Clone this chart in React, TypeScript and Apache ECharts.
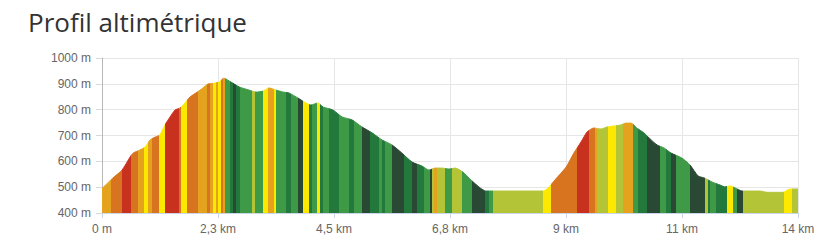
import React, { useEffect, useRef } from "react";
import * as echarts from "echarts";

const titleText = "Profil altimétrique";

// distance (km), elevation (m)
const profile: [number, number][] = [
  [0, 495], [0.21, 535], [0.39, 566], [0.55, 617], [0.61, 632], [0.74, 644], [0.84, 655],
  [0.94, 683], [1.04, 694], [1.13, 702], [1.23, 741], [1.33, 772], [1.43, 799], [1.52, 806],
  [1.62, 826], [1.72, 849], [1.86, 868], [1.97, 884], [2.07, 899], [2.21, 903], [2.29, 907],
  [2.38, 922], [2.52, 907], [2.68, 888], [2.87, 876], [3.01, 868], [3.15, 872], [3.26, 884],
  [3.40, 876], [3.54, 868], [3.65, 865], [3.83, 845], [3.95, 830], [4.08, 818], [4.22, 826],
  [4.32, 810], [4.51, 799], [4.69, 772], [4.89, 760], [5.08, 733], [5.28, 710], [5.47, 683],
  [5.67, 663], [5.86, 632], [6.06, 597], [6.25, 582], [6.39, 566], [6.51, 574], [6.64, 574],
  [6.78, 570], [6.90, 574], [7.05, 559], [7.21, 528], [7.39, 497], [7.50, 485], [8.62, 485],
  [8.72, 497], [8.85, 528], [9.07, 578], [9.22, 632], [9.36, 675], [9.48, 714], [9.61, 729],
  [9.75, 725], [9.87, 733], [10.01, 737], [10.14, 741], [10.24, 748], [10.34, 748], [10.45, 729],
  [10.59, 710], [10.73, 683], [10.85, 663], [10.98, 652], [11.12, 632], [11.33, 613], [11.49, 586],
  [11.65, 543], [11.78, 535], [11.92, 520], [12.08, 508], [12.17, 501], [12.27, 505], [12.37, 497],
  [12.51, 485], [12.86, 485], [13.00, 480], [13.31, 480], [13.44, 493], [13.60, 493],
];

// slope stripes: start km, slope class
const slopeStripes: [number, string][] = [
  [0, "A"], [0.18, "O"], [0.39, "R"], [0.57, "O"], [0.70, "A"], [0.82, "Y"], [0.90, "A"],
  [0.98, "O"], [1.11, "Y"], [1.23, "R"], [1.50, "O"], [1.54, "Y"], [1.66, "O"], [1.88, "A"],
  [2.05, "O"], [2.11, "A"], [2.17, "Y"], [2.23, "A"], [2.27, "Y"], [2.33, "O"], [2.36, "A"],
  [2.40, "LG"], [2.50, "G"], [2.56, "DG"], [2.62, "G"], [2.70, "LG"], [2.93, "YG"], [2.99, "LG"],
  [3.15, "Y"], [3.24, "A"], [3.36, "Y"], [3.40, "LG"], [3.60, "G"], [3.69, "LG"], [3.83, "DG"],
  [3.93, "Y"], [4.05, "G"], [4.10, "LG"], [4.20, "Y"], [4.26, "G"], [4.32, "LG"], [4.44, "G"],
  [4.63, "LG"], [4.83, "G"], [4.92, "LG"], [5.08, "DG"], [5.24, "G"], [5.41, "LG"], [5.47, "G"],
  [5.53, "LG"], [5.67, "DG"], [5.90, "G"], [6.06, "DG"], [6.16, "G"], [6.29, "LG"], [6.41, "DG"],
  [6.45, "YG"], [6.49, "A"], [6.55, "YG"], [6.70, "LG"], [6.84, "YG"], [7.03, "LG"], [7.23, "DG"],
  [7.48, "G"], [7.56, "LG"], [7.64, "YG"], [8.62, "Y"], [8.77, "O"], [9.28, "R"], [9.52, "O"],
  [9.63, "A"], [9.67, "YG"], [9.89, "Y"], [10.04, "YG"], [10.18, "A"], [10.38, "LG"], [10.47, "G"],
  [10.65, "DG"], [10.90, "LG"], [11.02, "G"], [11.12, "DG"], [11.22, "LG"], [11.49, "DG"],
  [11.78, "YG"], [11.84, "G"], [11.88, "LG"], [12.00, "G"], [12.21, "Y"], [12.33, "LG"],
  [12.41, "DG"], [12.53, "YG"], [13.33, "Y"], [13.48, "YG"],
];

const slopeColors: Record<string, string> = {
  R: "#c9311f",
  O: "#d8731f",
  A: "#e4a21f",
  Y: "#fde800",
  YG: "#b3c436",
  LG: "#3e9a47",
  G: "#22793b",
  DG: "#2a4934",
};

const totalKm = 13.6;
const xTickLabels = ["0 m", "2,3 km", "4,5 km", "6,8 km", "9 km", "11 km", "14 km"];
const yMin = 400;
const yMax = 1000;
const yStep = 100;

export default function App() {
  const ref = useRef<HTMLDivElement>(null);
  useEffect(() => {
    if (!ref.current) return;
    const chart = echarts.init(ref.current, null, { renderer: "svg" });
    const xStep = totalKm / (xTickLabels.length - 1);
    const pieces = slopeStripes.map((s, i) => {
      const next = i + 1 < slopeStripes.length ? slopeStripes[i + 1][0] : totalKm + 1;
      return { gte: s[0], lt: next, color: slopeColors[s[1]] };
    });
    chart.setOption({
      animation: false,
      title: {
        text: titleText,
        left: 23,
        top: 4,
        textStyle: {
          fontFamily: "'Open Sans', sans-serif",
          fontSize: 26,
          fontWeight: "normal",
          color: "#333333",
        },
      },
      grid: { left: 102, right: 32, top: 58, bottom: 33, containLabel: false },
      visualMap: {
        type: "piecewise",
        show: false,
        dimension: 0,
        seriesIndex: 0,
        pieces,
      },
      xAxis: {
        type: "value",
        min: 0,
        max: totalKm,
        interval: xStep,
        axisLine: { show: true, lineStyle: { color: "#ccd6eb" } },
        axisTick: { show: true, length: 5, lineStyle: { color: "#ccd6eb" } },
        splitLine: { show: true, lineStyle: { color: "#e6e6e6" } },
        axisLabel: {
          margin: 10,
          fontFamily: "'Liberation Sans', Arial, sans-serif",
          fontSize: 12,
          color: "#666666",
          formatter: (v: number) => xTickLabels[Math.round(v / xStep)] ?? "",
        },
      },
      yAxis: {
        type: "value",
        min: yMin,
        max: yMax,
        interval: yStep,
        axisLine: { show: true, lineStyle: { color: "#b8b8b8" } },
        axisTick: { show: true, length: 6, lineStyle: { color: "#d8d8d8" } },
        splitLine: { show: true, lineStyle: { color: "#e6e6e6" } },
        axisLabel: {
          margin: 11,
          fontFamily: "'Liberation Sans', Arial, sans-serif",
          fontSize: 12,
          color: "#666666",
          formatter: (v: number) => `${v} m`,
        },
      },
      series: [
        {
          type: "line",
          data: profile,
          showSymbol: false,
          smooth: 0.2,
          lineStyle: { width: 1 },
          areaStyle: { opacity: 1 },
          z: 3,
        },
      ],
    });
    return () => chart.dispose();
  }, []);
  return (
    <div
      ref={ref}
      style={{ position: "fixed", left: 0, top: 0, width: 830, height: 246, background: "#ffffff" }}
    />
  );
}
